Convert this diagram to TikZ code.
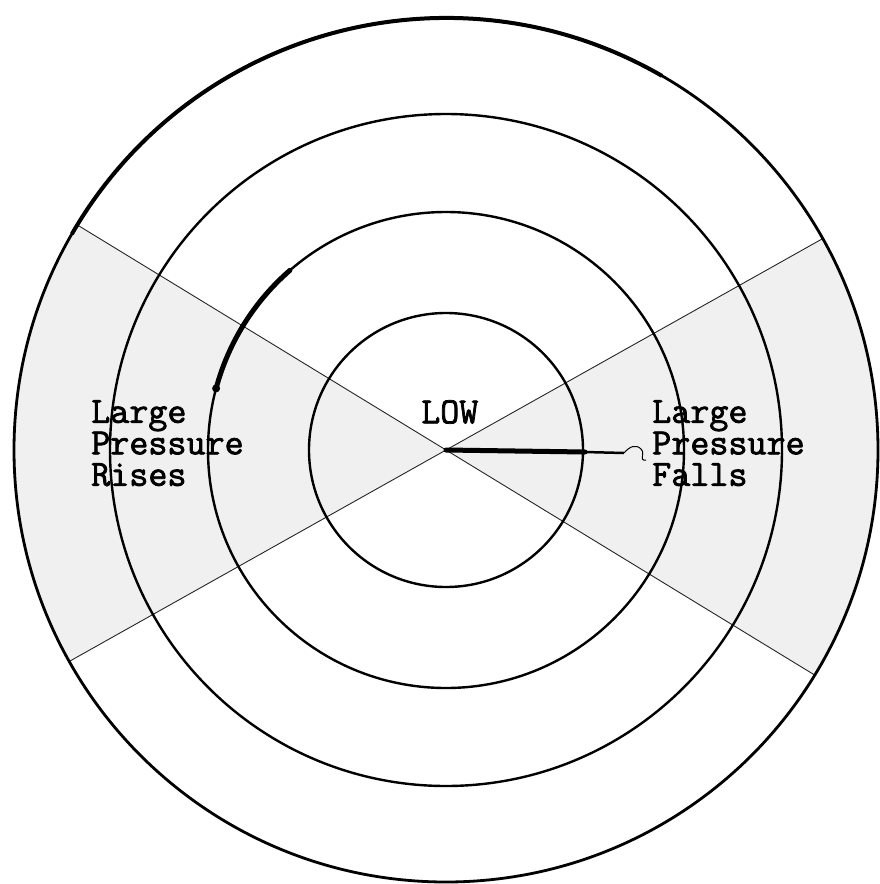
\documentclass[tikz,border=0pt]{standalone}
\usepackage{fontspec}
\setmonofont{Latin Modern Mono}[FakeBold=2]
\begin{document}
\begin{tikzpicture}[x=1pt,y=-1pt,
  ring/.style={line width=2.4pt,black},
  ray/.style={line width=0.9pt,black!85},
  shadearea/.style={fill=black!6},
  heavy/.style={line width=5pt,black,line cap=round},
  lbl/.style={font=\fontsize{37}{31.5}\selectfont\ttfamily,inner sep=0pt,align=left,anchor=north west}]
\useasboundingbox (0,0) rectangle (879,884);
\fill[white] (0,0) rectangle (879,884);
\coordinate (c) at (446,450);
% shaded wedges
\fill[shadearea] (c) -- ++(148.6:432pt) arc[start angle=148.6,end angle=209.3,radius=432pt] -- cycle;
\fill[shadearea] (c) -- ++(-31.4:432pt) arc[start angle=-31.4,end angle=29.3,radius=432pt] -- cycle;
% rays
\draw[ray] (c) -- ++(148.6:432pt);
\draw[ray] (c) -- ++(-31.4:432pt);
\draw[ray] (c) -- ++(209.3:432pt);
\draw[ray] (c) -- ++(29.3:432pt);
% circles
\draw[ring] (c) circle[radius=137pt];
\draw[ring] (c) circle[radius=238pt];
\draw[ring] (c) circle[radius=336pt];
\draw[ring,line width=2.8pt] (c) circle[radius=432pt];
\draw[line width=4pt] (c) ++(60:432pt) arc[start angle=60,end angle=150,radius=432pt];
% heavy arc on third circle
\draw[heavy] (c) ++(131:238pt) arc[start angle=131,end angle=165,radius=238pt];
\fill (c) ++(165:238pt) circle[radius=4pt];
% heavy bar from centre
\coordinate (b1) at (585,452);
\coordinate (b2) at (624,453);
\draw[heavy] (c) -- (b1);
\draw[line width=2.5pt] (b1) -- (b2);
\draw[line width=1pt] (b2) .. controls (630,446) and (636,444) .. (641,449) .. controls (646,454) and (638,461) .. (646,460);
% labels
\node[lbl] (low) at (421,400) {LOW};
\node[lbl] (left) at (91,400) {Large\\Pressure\\Rises};
\node[lbl] (right) at (652,400) {Large\\Pressure\\Falls};
\end{tikzpicture}
\end{document}
